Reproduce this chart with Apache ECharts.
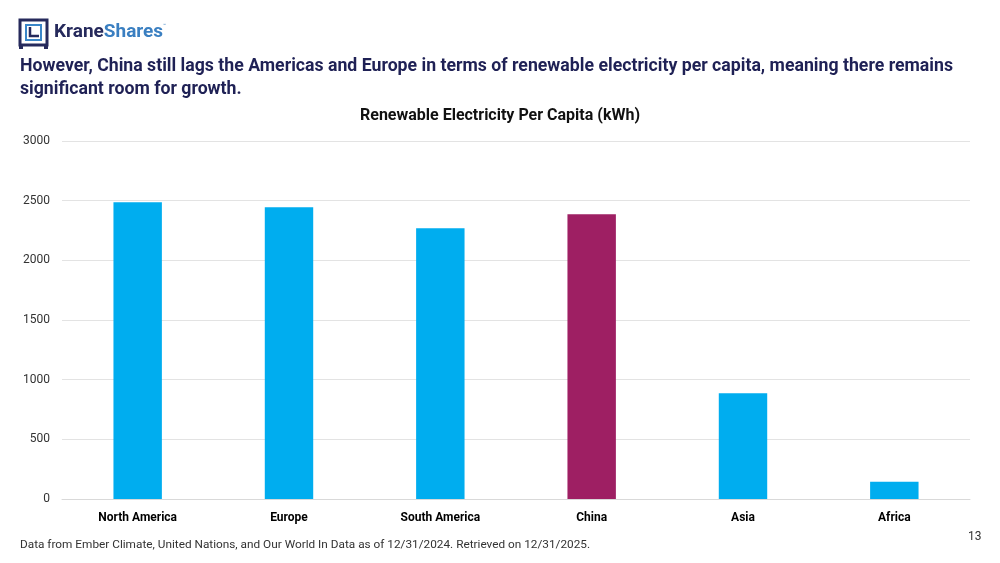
<!DOCTYPE html>
<html>
<head>
<meta charset="utf-8">
<script src="https://cdn.jsdelivr.net/npm/echarts@6/dist/echarts.min.js"></script>
<style>
html,body{margin:0;padding:0;background:#fff;}
#chart{width:1000px;height:563px;}
</style>
</head>
<body>
<div id="chart"></div>
<script>
const categories = ['North America', 'Europe', 'South America', 'China', 'Asia', 'Africa'];
const values = [2486, 2445, 2268, 2386, 886, 145];
const highlight = 'China';
const yTicks = { min: 0, max: 3000, interval: 500 };

const chart = echarts.init(document.getElementById('chart'));
const FONT = 'Roboto, "Noto Sans", sans-serif';
const option = {
  backgroundColor: '#fff',
  animation: false,
  grid: { left: 62, right: 30, top: 141, bottom: 64, containLabel: false },
  xAxis: {
    type: 'category',
    data: categories,
    axisLine: { show: true, lineStyle: { color: '#d9d9d9' } },
    axisTick: { show: false },
    axisLabel: { color: '#000', fontWeight: 'bold', fontSize: 12, fontFamily: FONT, margin: 13 }
  },
  yAxis: {
    type: 'value',
    min: yTicks.min, max: yTicks.max, interval: yTicks.interval,
    axisLine: { show: false },
    axisTick: { show: false },
    splitLine: { lineStyle: { color: '#e3e3e3' } },
    axisLabel: { color: '#333', fontSize: 12, fontFamily: FONT, margin: 12, formatter: v => String(v) }
  },
  series: [{
    type: 'bar',
    barWidth: '32%',
    data: values.map((v, i) => ({
      value: v,
      itemStyle: { color: categories[i] === highlight ? '#9e1f63' : '#00adef' }
    }))
  }],
  graphic: [
    // logo icon
    { type: 'rect', shape: { x: 20, y: 20, width: 27, height: 25 }, style: { fill: 'none', stroke: '#262a5c', lineWidth: 3 } },
    { type: 'rect', shape: { x: 19, y: 44, width: 4, height: 5 }, style: { fill: '#262a5c' } },
    { type: 'rect', shape: { x: 44, y: 44, width: 4, height: 5 }, style: { fill: '#262a5c' } },
    { type: 'rect', shape: { x: 26, y: 25, width: 15, height: 15 }, style: { fill: 'none', stroke: '#3a86c8', lineWidth: 2 } },
    { type: 'polyline', shape: { points: [[30, 27], [30, 36], [39, 36]] }, style: { fill: 'none', stroke: '#262a5c', lineWidth: 2.5 } },
    { type: 'text', left: 54, top: 23, style: {
        text: '{a|Krane}{b|Shares}{c|™}',
        rich: {
          a: { font: 'bold 19px ' + FONT, fill: '#262a5c' },
          b: { font: 'bold 19px ' + FONT, fill: '#3a7fc1' },
          c: { font: '5px ' + FONT, fill: '#3a7fc1', verticalAlign: 'top', padding: [0, 0, 12, 0] }
        }
    } },
    // heading
    { type: 'text', left: 20, top: 58, style: { text: 'However, China still lags the Americas and Europe in terms of renewable electricity per capita, meaning there remains', font: 'bold 17.7px ' + FONT, fill: '#1f2155' } },
    { type: 'text', left: 20, top: 81, style: { text: 'significant room for growth.', font: 'bold 17.7px ' + FONT, fill: '#1f2155' } },
    // chart title
    { type: 'text', left: 'center', top: 108, style: { text: 'Renewable Electricity Per Capita (kWh)', font: 'bold 16px ' + FONT, fill: '#111' } },
    // footer
    { type: 'text', left: 20, top: 539, style: { text: 'Data from Ember Climate, United Nations, and Our World In Data as of 12/31/2024. Retrieved on 12/31/2025.', font: '11.8px ' + FONT, fill: '#333' } },
    { type: 'text', left: 968, top: 531, style: { text: '13', font: '12px ' + FONT, fill: '#333' } }
  ]
};
chart.setOption(option);
</script>
</body>
</html>
